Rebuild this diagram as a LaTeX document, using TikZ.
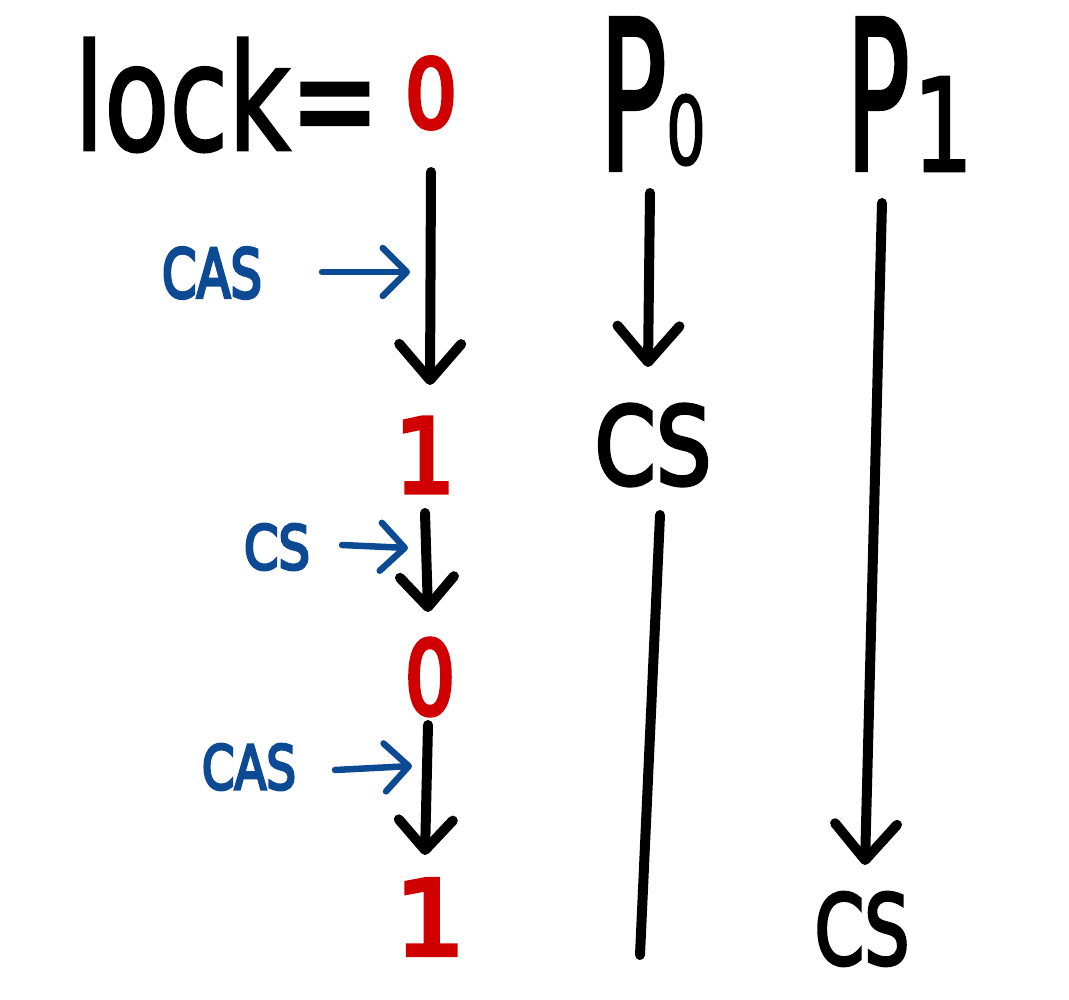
\documentclass[tikz,border=0pt]{standalone}
\usepackage{fontspec}
\setmainfont{DejaVu Sans}
\newfontfamily\handfont[FakeBold=2]{DejaVu Sans}
\newfontfamily\handmid[FakeBold=3.5]{DejaVu Sans}
\newfontfamily\handheavy[FakeBold=5]{DejaVu Sans}
\usetikzlibrary{arrows.meta,calc}
\definecolor{inkred}{RGB}{209,0,0}
\definecolor{inkblue}{RGB}{12,74,148}
\newcommand\hw[3]{\resizebox{#1pt}{#2pt}{\handfont #3}}
\newcommand\hwm[3]{\resizebox{#1pt}{#2pt}{\handmid #3}}
\newcommand\hwh[3]{\resizebox{#1pt}{#2pt}{\handheavy #3}}
\begin{document}
\begin{tikzpicture}[x=1pt,y=-1pt,
  txt/.style={inner sep=0pt, anchor=center},
  red/.style={txt, text=inkred},
  blu/.style={txt, text=inkblue},
  bigarr/.style={line width=10pt, line cap=round, line join=round,
    -{Straight Barb[length=36pt,width=62pt,round]}},
  midarr/.style={line width=10pt, line cap=round, line join=round,
    -{Straight Barb[length=30pt,width=54pt,round]}},
  plainline/.style={line width=10pt, line cap=round},
  bluarr/.style={draw=inkblue, line width=6.5pt, line cap=round, line join=round,
    -{Straight Barb[length=24pt,width=48pt,round]}}]
\useasboundingbox (0,0) rectangle (1069,1000);
% headers
\node[txt] (lock) at (227,95) {\hw{305}{112}{lock=}};
\node[red] (zeroA) at (431,93) {\hwh{52}{70}{0}};
\node[txt] (P0) at (633,94) {\hw{68}{152}{P}};
\node[txt] (P0sub) at (686,130) {\hw{40}{70}{0}};
\node[txt] (P1) at (878,94) {\hw{64}{152}{P}};
\node[txt] (P1sub) at (943,124) {\hw{60}{94}{1}};
% lock column
\node[red] (oneA) at (425,455) {\hwh{60}{74}{1}};
\node[red] (zeroB) at (430,677) {\hwh{50}{75}{0}};
\node[red] (oneB) at (430,917) {\hwh{70}{75}{1}};
% blue labels
\node[blu] (casA) at (212,273) {\hwh{100}{50}{CAS}};
\node[blu] (csB) at (277,547) {\hwh{66}{45}{CS}};
\node[blu] (casB) at (249,767) {\hwh{94}{45}{CAS}};
% CS of processes
\node[txt] (csP0) at (653,445) {\hwm{117}{80}{CS}};
\node[txt] (csP1) at (862,929) {\hwm{95}{72}{CS}};
% free ends
\coordinate (tA) at (410,272);
\coordinate (tB) at (408,548);
\coordinate (tC) at (412,766);
\coordinate (p0end) at (640,955);
% lock arrows
\draw[bigarr] ($(zeroA)+(0,79)$) -- ($(oneA)+(5,-70)$);
\draw[midarr] ($(oneA)+(0,58)$) -- ($(zeroB)+(-2,-65)$);
\draw[midarr] ($(zeroB)+(-2,48)$) -- ($(oneB)+(-5,-62)$);
% process lines
\draw[bigarr] ($(P0)+(17,99)$) -- ($(csP0)+(-5,-78)$);
\draw[plainline] ($(csP0)+(7,70)$) -- (p0end);
\draw[bigarr] ($(P1)+(4,109)$) -- ($(csP1)+(3,-64)$);
% blue arrows
\draw[bluarr] ($(casA)+(110,-1)$) -- (tA);
\draw[bluarr] ($(csB)+(65,-2)$) -- (tB);
\draw[bluarr] ($(casB)+(86,3)$) -- (tC);
\end{tikzpicture}
\end{document}
